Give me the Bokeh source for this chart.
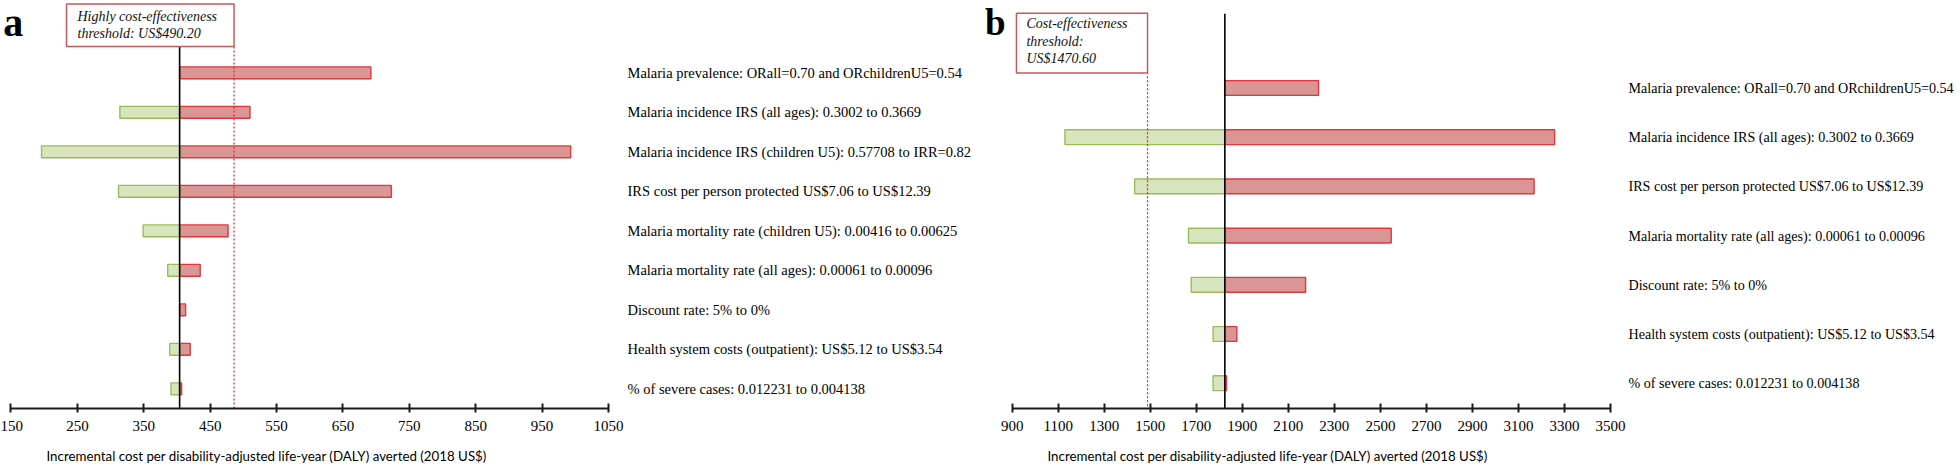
from bokeh.plotting import figure
from bokeh.models import Range1d, FixedTicker, Label, Title
from bokeh.layouts import row
from bokeh.embed import file_html
from bokeh.resources import INLINE

# ---------------- data ----------------
params_a = [
    "Malaria prevalence: ORall=0.70 and ORchildrenU5=0.54",
    "Malaria incidence IRS (all ages): 0.3002 to 0.3669",
    "Malaria incidence IRS (children U5): 0.57708 to IRR=0.82",
    "IRS cost per person protected US$7.06 to US$12.39",
    "Malaria mortality rate (children U5): 0.00416 to 0.00625",
    "Malaria mortality rate (all ages): 0.00061 to 0.00096",
    "Discount rate: 5% to 0%",
    "Health system costs (outpatient): US$5.12 to US$3.54",
    "% of severe cases: 0.012231 to 0.004138",
]
base_a = 404
low_a = [404, 314, 196, 312, 349, 386, 404, 389, 391]
high_a = [692, 510, 993, 723, 477, 435, 413, 420, 407]
threshold_a = 486
threshold_text_a = "Highly cost-effectiveness\nthreshold: US$490.20"
ticks_a = [150, 250, 350, 450, 550, 650, 750, 850, 950, 1050]

params_b = [
    "Malaria prevalence: ORall=0.70 and ORchildrenU5=0.54",
    "Malaria incidence IRS (all ages): 0.3002 to 0.3669",
    "IRS cost per person protected US$7.06 to US$12.39",
    "Malaria mortality rate (all ages): 0.00061 to 0.00096",
    "Discount rate: 5% to 0%",
    "Health system costs (outpatient): US$5.12 to US$3.54",
    "% of severe cases: 0.012231 to 0.004138",
]
base_b = 1824
low_b = [1824, 1129, 1432, 1666, 1678, 1773, 1773]
high_b = [2231, 3257, 3168, 2547, 2175, 1876, 1831]
threshold_b = 1488
threshold_text_b = "Cost-effectiveness\nthreshold:\nUS$1470.60"
ticks_b = [900, 1100, 1300, 1500, 1700, 1900, 2100, 2300, 2500, 2700, 2900, 3100, 3300, 3500]

axis_title = "Incremental cost per disability-adjusted  life-year (DALY) averted (2018 US$)"

# ---------------- style ----------------
RED_FILL = "#DA9694"
RED_LINE = "#E0363C"
GREEN_FILL = "#D8E4BE"
GREEN_LINE = "#9BBB59"
BOX_LINE = "#C8585A"
SERIF = "Liberation Serif"
AXIS_Y = 408       # image y of the x axis line
TOTAL_H = 468


def panel(letter, params, base, low, high, thr, thr_text, ticks,
          canvas_left, axis_left, axis_right, canvas_right,
          row0, sp, line_top, box_top, box_bottom, letter_x, letter_size, box_pad,
          label_size, label_standoff):
    n = len(params)
    rows = list(range(n))
    xmin, xmax = ticks[0], ticks[-1]
    k = (axis_right - axis_left) / (xmax - xmin)
    fw = int(round(axis_right - canvas_left))   # frame spans from canvas left to axis end

    def ydat(img_y):
        return (img_y - row0) / sp

    def xdat(img_x):
        return xmin + (img_x - axis_left) / k

    p = figure(frame_width=fw, frame_height=AXIS_Y,
               x_range=Range1d(xdat(canvas_left), xmax),
               y_range=Range1d(ydat(AXIS_Y), ydat(0)),
               y_axis_location="right",
               toolbar_location=None, output_backend="svg",
               min_border_left=0,
               min_border_right=int(canvas_right - canvas_left - fw),
               min_border_top=0,
               min_border_bottom=TOTAL_H - AXIS_Y)
    p.outline_line_color = None
    p.grid.visible = False
    p.background_fill_color = "white"
    p.border_fill_color = "white"

    # bars
    ry = [r for r in rows if high[r] > base]
    p.hbar(y=ry, left=[base] * len(ry), right=[high[r] for r in ry], height=0.3,
           fill_color=RED_FILL, line_color=RED_LINE, line_width=1.4)
    gy = [r for r in rows if low[r] < base]
    p.hbar(y=gy, left=[low[r] for r in gy], right=[base] * len(gy), height=0.3,
           fill_color=GREEN_FILL, line_color=GREEN_LINE, line_width=1.4)

    # base-case line and threshold line
    p.segment(x0=[base], x1=[base], y0=[ydat(line_top)], y1=[ydat(AXIS_Y)],
              line_color="black", line_width=1.6)
    p.segment(x0=[thr], x1=[thr], y0=[ydat(box_bottom)], y1=[ydat(AXIS_Y)],
              line_color="#D02A2A", line_width=1.2, line_dash="2 2")

    # x axis
    xa = p.xaxis[0]
    xa.bounds = (xmin, xmax)
    xa.ticker = FixedTicker(ticks=ticks)
    xa.axis_line_width = 2
    xa.axis_line_color = "#1a1a1a"
    xa.major_tick_line_width = 2
    xa.major_tick_line_color = "#1a1a1a"
    xa.major_tick_in = 5
    xa.major_tick_out = 4
    xa.minor_tick_line_color = None
    xa.major_label_text_font = SERIF
    xa.major_label_text_font_size = "15px"
    xa.major_label_text_color = "black"
    xa.major_label_standoff = 8

    # parameter labels on the right
    ya = p.yaxis[0]
    ya.ticker = FixedTicker(ticks=rows)
    ya.major_label_overrides = {r: params[r] for r in rows}
    ya.axis_line_color = None
    ya.major_tick_line_color = None
    ya.minor_tick_line_color = None
    ya.major_label_text_font = SERIF
    ya.major_label_text_font_size = label_size
    ya.major_label_text_color = "black"
    ya.major_label_standoff = label_standoff

    # axis title
    p.add_layout(Title(text=axis_title, align="left",
                       offset=int(round(axis_left - canvas_left + 35)),
                       text_font="Lato", text_font_size="13.3px",
                       text_font_style="normal", text_color="black",
                       standoff=25), "below")

    # panel letter
    p.add_layout(Label(x=xdat(letter_x), y=ydat(22), text=letter,
                       text_font=SERIF, text_font_style="bold",
                       text_font_size=letter_size, text_baseline="alphabetic",
                       text_align="left", text_color="black"))

    # threshold box
    p.add_layout(Label(x=thr, y=ydat(box_top), text=thr_text, anchor="top_right",
                       text_align="left",
                       text_font=SERIF, text_font_style="italic",
                       text_font_size="14px", text_line_height=1.16,
                       text_color="#111111",
                       padding=box_pad,
                       background_fill_color="white",
                       border_line_color=BOX_LINE, border_line_width=1.5))
    return p


pa = panel("a", params_a, base_a, low_a, high_a, threshold_a, threshold_text_a, ticks_a,
           canvas_left=0, axis_left=10.5, axis_right=608.5, canvas_right=980,
           row0=72.3, sp=39.5, line_top=46, box_top=3.5, box_bottom=46, letter_x=2.7,
           letter_size="40px", box_pad=dict(left=11, right=17, top=5, bottom=5),
           label_size="14.5px", label_standoff=13)
pb = panel("b", params_b, base_b, low_b, high_b, threshold_b, threshold_text_b, ticks_b,
           canvas_left=980, axis_left=1011.7, axis_right=1609.5, canvas_right=1960,
           row0=87.5, sp=49.2, line_top=13.3, box_top=12.7, box_bottom=71.7, letter_x=984.5,
           letter_size="37px", box_pad=dict(left=10, right=20, top=3, bottom=7),
           label_size="14.1px", label_standoff=12)

layout = row(pa, pb)
open("out.html", "w").write(file_html(layout, INLINE))
